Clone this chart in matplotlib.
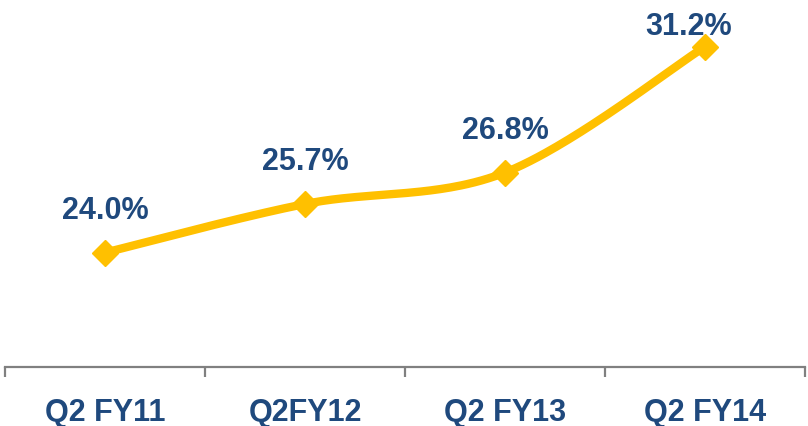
import numpy as np
import matplotlib
matplotlib.use("Agg")
import matplotlib.pyplot as plt

# Data
categories = ["Q2 FY11", "Q2FY12", "Q2 FY13", "Q2 FY14"]
values = [24.0, 25.7, 26.8, 31.2]
labels = ["24.0%", "25.7%", "26.8%", "31.2%"]

LINE_COLOR = "#FFC000"
TEXT_COLOR = "#1F497D"
AXIS_COLOR = "#808080"

plt.rcParams["font.family"] = ["Liberation Sans", "DejaVu Sans"]

x = np.arange(len(values), dtype=float)
y = np.array(values, dtype=float)


def smooth_curve(xs, ys, n=60):
    # Excel-like smoothing: cubic bezier with catmull-rom control points
    pts = np.column_stack([xs, ys])
    out = []
    for i in range(len(pts) - 1):
        p0 = pts[max(i - 1, 0)]
        p1 = pts[i]
        p2 = pts[i + 1]
        p3 = pts[min(i + 2, len(pts) - 1)]
        c1 = p1 + (p2 - p0) / 6.0
        c2 = p2 - (p3 - p1) / 6.0
        t = np.linspace(0, 1, n)[:, None]
        seg = ((1 - t) ** 3) * p1 + 3 * ((1 - t) ** 2) * t * c1 \
            + 3 * (1 - t) * t ** 2 * c2 + t ** 3 * p2
        out.append(seg if i == 0 else seg[1:])
    out = np.vstack(out)
    return out[:, 0], out[:, 1]


fig = plt.figure(figsize=(8.08, 4.26), dpi=100)
ax = fig.add_axes([5 / 808, 59 / 426, 800 / 808, 367 / 426])

sx, sy = smooth_curve(x, y)
ax.plot(sx, sy, color=LINE_COLOR, lw=6, solid_capstyle="round", zorder=2)
ax.plot(x, y, linestyle="none", marker="D", markersize=13,
        color=LINE_COLOR, zorder=3)

# data labels (offsets in points)
offsets = [(0, 30), (0, 30), (0, 30), (-12, 14)]
for xi, yi, lab, off in zip(x, y, labels, offsets):
    ax.annotate(lab, (xi, yi), xytext=off, textcoords="offset points",
                ha="center", va="center", fontsize=22, fontweight="bold",
                color=TEXT_COLOR, zorder=4)

ax.set_xlim(-0.5, len(values) - 0.5)
ax.set_ylim(20, 20 + 367 / 28.6)

for side in ["top", "right", "left"]:
    ax.spines[side].set_visible(False)
ax.spines["bottom"].set_color(AXIS_COLOR)
ax.spines["bottom"].set_linewidth(1.6)

ax.set_yticks([])
ax.set_xticks(x)
ax.set_xticklabels(categories, fontsize=22, fontweight="bold", color=TEXT_COLOR)
ax.tick_params(axis="x", which="major", length=0, pad=22)
ax.set_xticks(np.arange(-0.5, len(values), 1.0), minor=True)
ax.tick_params(axis="x", which="minor", length=7, width=1.6, color=AXIS_COLOR)

fig.savefig("out.png", dpi=100)
